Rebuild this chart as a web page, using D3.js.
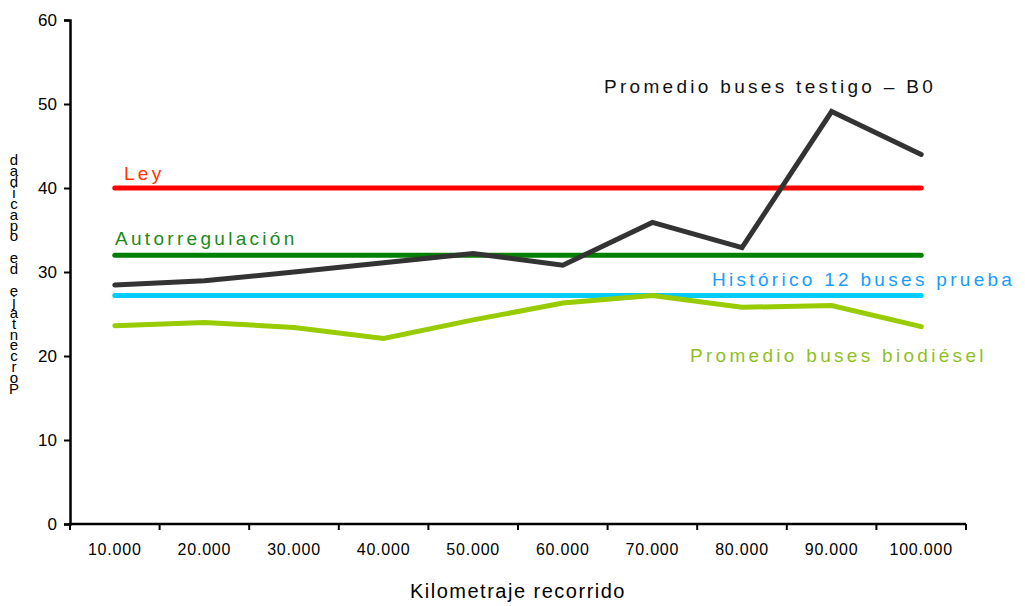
<!DOCTYPE html>
<html>
<head>
<meta charset="utf-8">
<script src="https://cdn.jsdelivr.net/npm/d3@7"></script>
<style>
  html, body { margin: 0; padding: 0; background: #ffffff; }
  svg { display: block; }
  text { font-family: "Liberation Sans", Arial, sans-serif; }
</style>
</head>
<body>
<svg id="chart" width="1025" height="606"></svg>
<script>
// Kilometres travelled (categories)
const kmLabels = ["10.000", "20.000", "30.000", "40.000", "50.000",
                  "60.000", "70.000", "80.000", "90.000", "100.000"];

// Average opacity (%) per series
const testigoB0 = [28.45, 28.95, 30.0, 31.1, 32.2, 30.8, 35.9, 32.9, 49.1, 44.0];
const biodiesel = [23.6, 24.0, 23.4, 22.1, 24.3, 26.3, 27.2, 25.8, 26.0, 23.5];

// Reference levels (%)
const ley = 40;
const autorregulacion = 32;
const historico = 27.2;

const yTicks = [0, 10, 20, 30, 40, 50, 60];

const svg = d3.select("#chart");
const plotLeft = 70, plotRight = 966, plotTop = 20, plotBottom = 524;

const x = d3.scaleBand().domain(kmLabels).range([plotLeft, plotRight]).padding(0);
const y = d3.scaleLinear().domain([0, 60]).range([plotBottom, plotTop]);
const cx = d => x(d) + x.bandwidth() / 2;

// Y axis
const yAxis = svg.append("g")
  .attr("transform", `translate(${plotLeft},0)`)
  .call(d3.axisLeft(y).tickValues(yTicks).tickSize(6).tickPadding(7).tickFormat(d3.format("d")));
yAxis.select(".domain").attr("stroke", "#000").attr("stroke-width", 2.5);
yAxis.selectAll(".tick line").attr("stroke", "#000").attr("stroke-width", 2);
yAxis.selectAll(".tick text")
  .attr("font-size", 17).attr("fill", "#000")
  .attr("font-family", "'Liberation Sans', Arial, sans-serif");

// X axis: ticks on category boundaries
const boundaries = kmLabels.map(d => x(d)).concat([plotRight]);
const xg = svg.append("g");
xg.append("line")
  .attr("x1", plotLeft).attr("x2", plotRight)
  .attr("y1", plotBottom).attr("y2", plotBottom)
  .attr("stroke", "#000").attr("stroke-width", 2.5);
xg.selectAll("line.tk").data(boundaries).join("line")
  .attr("class", "tk")
  .attr("x1", d => d).attr("x2", d => d)
  .attr("y1", plotBottom).attr("y2", plotBottom + 6)
  .attr("stroke", "#000").attr("stroke-width", 2);
xg.selectAll("text.kl").data(kmLabels).join("text")
  .attr("class", "kl")
  .attr("x", d => cx(d)).attr("y", 555)
  .attr("text-anchor", "middle")
  .attr("font-size", 16)
  .attr("letter-spacing", 0.8)
  .attr("fill", "#000")
  .text(d => d);

// Axis titles
svg.append("text")
  .attr("x", 518).attr("y", 598)
  .attr("text-anchor", "middle")
  .attr("font-size", 20)
  .attr("letter-spacing", 1.5)
  .attr("fill", "#000")
  .text("Kilometraje recorrido");

// Y title: upright letters stacked from the bottom upwards
const yTitle = "Porcentaje de opacidad";
svg.append("g").selectAll("text").data(yTitle.split("")).join("text")
  .attr("x", 14)
  .attr("y", (d, i) => 394 - i * 10.9)
  .attr("text-anchor", "middle")
  .attr("font-size", 15)
  .attr("fill", "#000")
  .text(d => d);

// Reference lines
const refs = [
  { v: ley, color: "#ff0000" },
  { v: autorregulacion, color: "#008000" },
  { v: historico, color: "#00ccff" }
];
svg.append("g").selectAll("line").data(refs).join("line")
  .attr("x1", cx(kmLabels[0])).attr("x2", cx(kmLabels[kmLabels.length - 1]))
  .attr("y1", d => y(d.v)).attr("y2", d => y(d.v))
  .attr("stroke", d => d.color)
  .attr("stroke-width", 5)
  .attr("stroke-linecap", "round");

// Series lines
const line = d3.line().x((d, i) => cx(kmLabels[i])).y(d => y(d));
svg.append("path").datum(biodiesel)
  .attr("d", line).attr("fill", "none")
  .attr("stroke", "#99cc00").attr("stroke-width", 5)
  .attr("stroke-linejoin", "miter").attr("stroke-linecap", "round");
svg.append("path").datum(testigoB0)
  .attr("d", line).attr("fill", "none")
  .attr("stroke", "#333333").attr("stroke-width", 5)
  .attr("stroke-linejoin", "miter").attr("stroke-linecap", "round");

// Series labels
const labels = [
  { t: "Ley", x: 124, y: 180, c: "#ff3300" },
  { t: "Autorregulación", x: 115, y: 245, c: "#1a8a1a" },
  { t: "Histórico 12 buses prueba", x: 712, y: 286, c: "#1a9cff" },
  { t: "Promedio buses testigo – B0", x: 604, y: 93, c: "#111111" },
  { t: "Promedio buses biodiésel", x: 690, y: 362, c: "#8fbf1f" }
];
svg.append("g").selectAll("text").data(labels).join("text")
  .attr("x", d => d.x).attr("y", d => d.y)
  .attr("font-size", 19)
  .attr("letter-spacing", 3.3)
  .attr("fill", d => d.c)
  .text(d => d.t);
</script>
</body>
</html>
